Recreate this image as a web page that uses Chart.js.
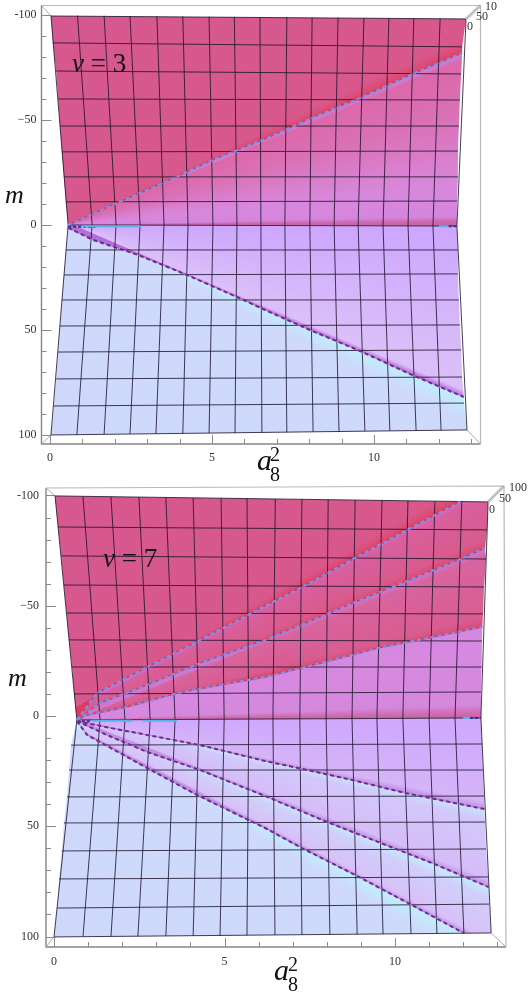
<!DOCTYPE html>
<html>
<head>
<meta charset="utf-8">
<script src="https://cdn.jsdelivr.net/npm/chart.js@4"></script>
<style>
  html, body { margin: 0; background: #fff; }
  #page { position: relative; width: 529px; height: 992px; overflow: hidden; font-family: "Liberation Serif", serif; color: #111; }
  canvas { position: absolute; left: 0; }
  .txt { position: absolute; line-height: 1; white-space: pre; }
  .small { font-size: 12px; color: #333; }
  .nu { font-size: 27px; }
  .big { font-size: 26px; font-style: italic; }
  .a8 { font-size: 30px; font-style: italic; }
  .idx { font-size: 20px; }
</style>
</head>
<body>
<div id="page">
  <canvas id="topChart" width="529" height="484" style="top:0"></canvas>
  <canvas id="bottomChart" width="529" height="508" style="top:484px"></canvas>

  <span class="txt nu" style="left:72px;top:50px"><i>ν</i> = 3</span>
  <span class="txt big" style="left:5px;top:182px">m</span>
  <span class="txt a8" style="left:257px;top:445px">a</span>
  <span class="txt idx" style="left:270px;top:444px">2</span>
  <span class="txt idx" style="left:270px;top:464px">8</span>
  <span class="txt small" style="left:485px;top:0px">10</span>
  <span class="txt small" style="left:476px;top:10px">50</span>
  <span class="txt small" style="left:467px;top:20px">0</span>

  <span class="txt nu" style="left:103px;top:545px"><i>ν</i> = 7</span>
  <span class="txt big" style="left:8px;top:665px">m</span>
  <span class="txt a8" style="left:274px;top:955px">a</span>
  <span class="txt idx" style="left:288px;top:954px">2</span>
  <span class="txt idx" style="left:288px;top:974px">8</span>
  <span class="txt small" style="left:509px;top:481px">100</span>
  <span class="txt small" style="left:499px;top:492px">50</span>
  <span class="txt small" style="left:489px;top:503px">0</span>
</div>
<script>
// axis ticks (same on both plots)
const aTicks = [0, 1, 2, 3, 4, 5, 6, 7, 8, 9, 10, 11, 12, 13];
const aLabels = ['0', '', '', '', '', '5', '', '', '', '', '10', '', '', ''];
const mTicks = [-100, -90, -80, -70, -60, -50, -40, -30, -20, -10, 0, 10, 20, 30, 40, 50, 60, 70, 80, 90, 100];
const mLabels = ['-100', '', '', '', '', '\u221250', '', '', '', '', '0', '', '', '', '', '50', '', '', '', '', '100'];

// nu = 3: mesh lines running top to bottom
const n3LineTopA = [0.03, 0.85, 1.67, 2.47, 3.30, 4.10, 4.91, 5.69, 6.48, 7.31, 8.09, 8.89, 9.69, 10.46, 11.23, 12.04, 12.84];
const n3LineTopM = [-99.8, -99.7, -99.6, -99.5, -99.4, -99.3, -99.2, -99.1, -99, -98.9, -98.8, -98.7, -98.6, -98.4, -98.3, -98.2, -98.1];
const n3LineMidA = [0.56, 1.30, 2.04, 2.78, 3.52, 4.26, 5.03, 5.77, 6.51, 7.25, 8.02, 8.77, 9.51, 10.28, 11.05, 11.82, 12.56];
const n3LineMidM = [0, 0, 0, 0, 0, 0, 0, 0.1, 0.1, 0.2, 0.2, 0.3, 0.3, 0.4, 0.4, 0.5, 0.5];
const n3LineBotA = [0.03, 0.83, 1.67, 2.47, 3.27, 4.10, 4.91, 5.71, 6.54, 7.31, 8.12, 8.92, 9.72, 10.49, 11.30, 12.07, 12.87];
const n3LineBotM = [100, 99.9, 99.7, 99.5, 99.4, 99.3, 99.1, 99, 98.8, 98.7, 98.5, 98.4, 98.2, 98.1, 97.9, 97.8, 97.6];
// nu = 3: mesh lines running left to right
const n3RowLeftA = [0.03, 0.09, 0.19, 0.25, 0.31, 0.37, 0.43, 0.49, 0.56, 0.49, 0.43, 0.37, 0.31, 0.25, 0.19, 0.12, 0.03];
const n3RowLeftM = [-99.5, -86.7, -73.3, -60, -47.1, -34.8, -22.9, -11, 0, 11.9, 23.8, 35.7, 48.1, 60.5, 73.3, 86.2, 100];
const n3RowRightA = [12.84, 12.72, 12.69, 12.65, 12.62, 12.59, 12.59, 12.56, 12.56, 12.59, 12.59, 12.62, 12.65, 12.69, 12.72, 12.78, 12.87];
const n3RowRightM = [-98.1, -84.8, -71.9, -59.5, -47.1, -35.2, -22.9, -11.4, 0.5, 11.9, 23.3, 35.7, 47.6, 59.5, 72.4, 84.8, 97.6];
// nu = 3: phase boundaries
const n3UpperA = [0.56, 2.07, 3.49, 5.03, 6.64, 8.09, 9.57, 11.11, 12.72];
const n3UpperM = [0, -10.5, -20, -31, -41, -51, -60.5, -71.4, -81.9];
const n3LowerA = [0.56, 1.33, 2.72, 4.23, 5.77, 6.64, 8.02, 9.57, 11.17, 12.77];
const n3LowerM = [1.4, 7.1, 14.3, 23.8, 34.3, 40.5, 50, 60, 71.4, 81.9];
const n3ZeroA = [0.56, 12.56];
const n3ZeroM = [0, 0.5];
const n3ScarA = [[1.0, 2.8], [12.0, 12.3]];
const n3ScarM = [[0.6, 0.6], [0.6, 0.6]];
const n3DarkScarA = [[0.56, 1.4], [12.3, 12.56]];
const n3DarkScarM = [[0.8, 0.8], [0.6, 0.6]];
const n3FrameA = [-0.262, 13.287, 13.287, -0.262];
const n3FrameM = [-104.5, -104.5, 104.29, 104.29];

// nu = 7: mesh lines running top to bottom
const n7LineTopA = [0.03, 0.85, 1.67, 2.49, 3.28, 4.08, 4.90, 5.66, 6.49, 7.27, 8.04, 8.83, 9.62, 10.38, 11.17, 11.96, 12.73];
const n7LineTopM = [-99.8, -99.6, -99.4, -99.3, -99.1, -98.9, -98.8, -98.6, -98.4, -98.3, -98.1, -97.9, -97.8, -97.6, -97.4, -97.3, -97.1];
const n7LineMidA = [0.67, 1.35, 2.08, 2.82, 3.55, 4.25, 4.99, 5.71, 6.42, 7.21, 7.98, 8.74, 9.47, 10.23, 11.0, 11.76, 12.52];
const n7LineMidM = [1.8, 1.7, 1.7, 1.6, 1.6, 1.5, 1.5, 1.4, 1.4, 1.3, 1.3, 1.2, 1.2, 1.1, 1.1, 1.0, 0.9];
const n7LineBotA = [0, 0.85, 1.67, 2.46, 3.28, 4.08, 4.87, 5.66, 6.48, 7.27, 8.09, 8.89, 9.65, 10.47, 11.23, 12.02, 12.82];
const n7LineBotM = [100.2, 100.1, 100, 99.9, 99.8, 99.7, 99.6, 99.5, 99.3, 99.2, 99.1, 99, 98.9, 98.8, 98.7, 98.5, 98.4];
// nu = 7: mesh lines running left to right
const n7RowLeftA = [0.03, 0.12, 0.21, 0.29, 0.37, 0.44, 0.53, 0.59, 0.67, 0.50, 0.44, 0.38, 0.29, 0.23, 0.15, 0.09, 0];
const n7RowLeftM = [-99.8, -85.7, -72.6, -59.4, -46.7, -34.5, -22.2, -10, 1.8, 13.2, 24.5, 36.7, 48.5, 61.2, 73.9, 87.1, 100.2];
const n7RowRightA = [12.73, 12.70, 12.67, 12.61, 12.58, 12.55, 12.54, 12.52, 12.52, 12.55, 12.58, 12.61, 12.64, 12.67, 12.73, 12.76, 12.82];
const n7RowRightM = [-97.1, -84.4, -71.2, -58.5, -46.3, -34, -22.2, -10.9, 0.9, 12.7, 24.5, 36.3, 48.1, 60.3, 73, 85.3, 98.4];
// nu = 7: phase boundaries
const n7Upper1A = [0.67, 1.26, 2.73, 4.28, 6.19, 7.21, 8.77, 10.35, 11.91];
const n7Upper1M = [1.8, -10.4, -22.2, -34.5, -49.9, -58, -71.2, -84.4, -97.2];
const n7Upper2A = [0.67, 1.35, 2.73, 4.28, 6.19, 7.45, 8.83, 10.29, 11.85, 12.64];
const n7Upper2M = [1.8, -5.9, -14.1, -24, -34.5, -42.6, -51.7, -60.8, -70.7, -76.2];
const n7Upper3A = [0.67, 0.97, 2.14, 3.61, 4.87, 6.19, 7.95, 9.50, 10.97, 12.56];
const n7Upper3M = [1.8, -0.5, -4.1, -10.4, -14.1, -17.7, -24.5, -30.8, -35.4, -40.4];
const n7ZeroA = [0.67, 12.52];
const n7ZeroM = [1.8, 0.9];
const n7Lower1A = [0.67, 1.64, 2.73, 4.28, 6.19, 7.16, 8.74, 10.29, 12.62];
const n7Lower1M = [2.3, 5.4, 8.6, 13.2, 20.4, 23.6, 29, 34.9, 42.2];
const n7Lower2A = [0.67, 1.55, 2.73, 4.28, 6.19, 8.01, 9.50, 11.09, 12.75];
const n7Lower2M = [2.3, 8.6, 16.3, 24.5, 36.3, 48.1, 57.1, 66.7, 77.6];
const n7Lower3A = [0.67, 0.97, 2.73, 4.19, 6.19, 7.27, 8.83, 10.38, 12.02];
const n7Lower3M = [2.3, 8.6, 23.6, 35.8, 50.8, 59.9, 72.1, 84.8, 98.5];
const n7ScarA = [[1.1, 2.3], [2.6, 3.6], [12.0, 12.2]];
const n7ScarM = [[2.2, 2.2], [2.2, 2.2], [0.9, 0.9]];
const n7DarkScarA = [[0.67, 1.1], [12.2, 12.52]];
const n7DarkScarM = [[2.4, 2.4], [0.9, 0.9]];
const n7FrameA = [-0.235, 13.196, 13.255, -0.235];
const n7FrameM = [-103.4, -104.3, 104.76, 104.76];

// colours along each wedge, [position from upper to lower edge, colour]
const n3WedgeStops = [
  [[0, '#d6588f'], [0.975, '#d8588c'], [0.993, '#dd4a72'], [1, '#e03a5c']],
  [[0, '#c884dc'], [0.04, '#dc68aa'], [0.3, '#da70b4'], [0.75, '#d888dc'], [0.94, '#d585dc'], [0.97, '#cc6ab0'], [1, '#c8609f']],
  [[0, '#cda6ff'], [0.5, '#d4b4fb'], [0.965, '#dbc0f8'], [0.985, '#c890e8'], [1, '#b070d8']],
  [[0, '#bdf0fb'], [0.01, '#c4e8fb'], [0.04, '#ced9fb'], [1, '#cfd8fb']]
];
const n7WedgeStops = [
  [[0, '#d6588f'], [0.975, '#d8588c'], [0.993, '#dd4a72'], [1, '#e03a5c']],
  [[0, '#cf70c8'], [0.08, '#d8609f'], [0.85, '#d95a8c'], [1, '#dd4a70']],
  [[0, '#cf78d0'], [0.1, '#d8659f'], [0.88, '#d85c90'], [1, '#dc4a72']],
  [[0, '#d488e0'], [0.2, '#d888e0'], [0.85, '#d488dc'], [0.93, '#d070b8'], [1, '#c8609f']],
  [[0, '#cfa8ff'], [0.5, '#d2aefb'], [0.92, '#d6b4f8'], [1, '#c090e4']],
  [[0, '#c8e4fa'], [0.15, '#d2c8fb'], [0.9, '#d6bcf8'], [1, '#c090e4']],
  [[0, '#c4ecfb'], [0.2, '#d0d0fb'], [0.9, '#d8c0f8'], [1, '#c090e4']],
  [[0, '#bdf0fb'], [0.01, '#c4e8fb'], [0.04, '#ced9fb'], [1, '#cfd8fb']]
];

function toPoints(xs, ys) {
  return xs.map((x, i) => ({ x: x, y: ys[i] }));
}

// tick marks point into the box here, chart.js only draws them outwards
const innerTicks = {
  id: 'innerTicks',
  afterDraw(chart) {
    const { ctx, chartArea, scales } = chart;
    ctx.save();
    ctx.strokeStyle = '#8a8a8a';
    ctx.lineWidth = 1;
    aTicks.forEach((v, i) => {
      const px = Math.round(scales.x.getPixelForValue(v)) + 0.5;
      ctx.beginPath();
      ctx.moveTo(px, chartArea.bottom);
      ctx.lineTo(px, chartArea.bottom - (aLabels[i] ? 9 : 5));
      ctx.stroke();
    });
    mTicks.forEach((v, i) => {
      const py = Math.round(scales.y.getPixelForValue(v)) + 0.5;
      ctx.beginPath();
      ctx.moveTo(chartArea.left, py);
      ctx.lineTo(chartArea.left + (mLabels[i] ? 10 : 5), py);
      ctx.stroke();
    });
    ctx.restore();
  }
};

function drawPanel(id, p) {
  const rowLeft = toPoints(p.rowLeftA, p.rowLeftM);
  const rowRight = toPoints(p.rowRightA, p.rowRightM);
  const apex = rowLeft[8];

  // the chains fan out of the apex, top edge first and bottom edge last
  const chains = [];
  chains.push(rowLeft.slice(0, 9).reverse().concat([rowRight[0]]));
  p.boundaries.forEach(b => chains.push(toPoints(b[0], b[1])));
  chains.push(rowLeft.slice(8).concat([rowRight[16]]));
  const last = chains.length - 2;

  const px = (chart, pt) => ({ x: chart.scales.x.getPixelForValue(pt.x), y: chart.scales.y.getPixelForValue(pt.y) });

  // straight line through the outer half of a chain, in pixels
  function fitLine(chart, chain) {
    const q = px(chart, chain[Math.floor((chain.length - 1) / 2)]);
    const r = px(chart, chain[chain.length - 1]);
    return { x: r.x, y: r.y, slope: (r.y - q.y) / (r.x - q.x) };
  }

  // the shading of a wedge follows the two lines it lies between, so turn around where they meet
  function wedgeCentre(chart, i) {
    const ax = px(chart, apex).x;
    if (i === 0) {
      const l = fitLine(chart, chains[1]);
      return { x: ax, y: l.y + l.slope * (ax - l.x) };
    }
    if (i === last) {
      const l = fitLine(chart, chains[last]);
      return { x: ax, y: l.y + l.slope * (ax - l.x) };
    }
    const a = fitLine(chart, chains[i]), b = fitLine(chart, chains[i + 1]);
    const x = (b.y - a.y + a.slope * a.x - b.slope * b.x) / (a.slope - b.slope);
    return { x: x, y: a.y + a.slope * (x - a.x) };
  }

  const datasets = [];

  // wedges
  for (let i = 0; i <= last; i++) {
    const a = chains[i], b = chains[i + 1];
    const lo = a[a.length - 1].y, hi = b[b.length - 1].y;
    const between = rowRight.filter(pt => pt.y > lo && pt.y < hi);
    const shape = a.concat(between, b.slice().reverse());
    const stops = p.wedgeStops[i];
    datasets.push({
      data: shape,
      showLine: true,
      fill: 'shape',
      borderWidth: 0,
      pointRadius: 0,
      order: 6,
      backgroundColor(c) {
        const chart = c.chart;
        if (!chart.chartArea) return stops[0][1];
        const centre = wedgeCentre(chart, i);
        const from = px(chart, i === 0 ? rowLeft[0] : a[a.length - 1]);
        const to = px(chart, i === last ? rowLeft[16] : b[b.length - 1]);
        const t0 = Math.atan2(from.y - centre.y, from.x - centre.x);
        const t1 = Math.atan2(to.y - centre.y, to.x - centre.x);
        const g = chart.ctx.createConicGradient(-Math.PI, centre.x, centre.y);
        stops.forEach(s => g.addColorStop((t0 + s[0] * (t1 - t0) + Math.PI) / (2 * Math.PI), s[1]));
        return g;
      }
    });
  }

  // mesh
  const meshColor = 'rgba(28, 20, 44, 0.82)';
  p.lineTopA.forEach((v, i) => {
    datasets.push({
      data: [{ x: v, y: p.lineTopM[i] }, { x: p.lineMidA[i], y: p.lineMidM[i] }, { x: p.lineBotA[i], y: p.lineBotM[i] }],
      showLine: true, borderColor: meshColor, borderWidth: 1, pointRadius: 0, order: 4
    });
  });
  rowLeft.forEach((pt, i) => {
    datasets.push({
      data: [pt, rowRight[i]],
      showLine: true, borderColor: meshColor, borderWidth: 1, pointRadius: 0, order: 4
    });
  });

  // phase boundaries, a solid line with a jagged looking dashed one on it
  p.boundaries.forEach(b => {
    const pts = toPoints(b[0], b[1]);
    const end = pts[pts.length - 1].y;
    if (Math.abs(end) < 5) return;
    const upper = end < 0;
    datasets.push({
      data: pts, showLine: true, pointRadius: 0, order: 3,
      borderColor: upper ? '#dc3a62' : '#c070d8', borderWidth: upper ? 1.5 : 1
    });
    datasets.push({
      data: pts, showLine: true, pointRadius: 0, order: 2,
      borderColor: upper ? '#7096f0' : '#6e2a8c', borderWidth: 2, borderDash: [4, 3]
    });
  });

  // streaks along m = 0
  p.scarA.forEach((v, i) => {
    datasets.push({
      data: toPoints(v, p.scarM[i]), showLine: true, pointRadius: 0, order: 2,
      borderColor: '#55b4e8', borderWidth: 2
    });
  });
  p.darkScarA.forEach((v, i) => {
    datasets.push({
      data: toPoints(v, p.darkScarM[i]), showLine: true, pointRadius: 0, order: 2,
      borderColor: '#3f2c94', borderWidth: 2, borderDash: [3, 2]
    });
  });

  // box around the plot and the corner struts
  const f = toPoints(p.frameA, p.frameM);
  const struts = [[f[0], rowLeft[0]], [f[1], rowRight[0]], [f[2], rowRight[16]], [f[3], rowLeft[16]]];
  struts.forEach(s => {
    datasets.push({ data: s, showLine: true, pointRadius: 0, order: 1, clip: false, borderColor: '#a8a8a8', borderWidth: 1 });
  });
  // the corner with the third axis is a thin grey sliver
  datasets.push({ data: struts[1], showLine: true, pointRadius: 0, order: 2, clip: false, borderColor: '#d4d4d4', borderWidth: 3.5 });
  datasets.push({ data: [f[0], f[1], f[2]], showLine: true, pointRadius: 0, order: 1, clip: false, borderColor: '#b8b8b8', borderWidth: 1.2 });
  datasets.push({ data: [f[0], f[3], f[2]], showLine: true, pointRadius: 0, order: 1, clip: false, borderColor: '#858585', borderWidth: 1.4 });

  new Chart(document.getElementById(id), {
    type: 'scatter',
    data: { datasets: datasets },
    plugins: [innerTicks],
    options: {
      responsive: false,
      animation: false,
      layout: { padding: { top: p.padTop, right: p.padRight, left: 0, bottom: 0 } },
      plugins: { legend: { display: false }, tooltip: { enabled: false } },
      elements: { line: { tension: 0 } },
      scales: {
        x: {
          type: 'linear',
          min: p.xMin,
          max: p.xMax,
          grid: { display: false, drawTicks: false, tickLength: 0 },
          border: { display: false },
          afterBuildTicks(scale) { scale.ticks = aTicks.map(v => ({ value: v })); },
          afterFit(scale) {
            scale.height = p.axisH;
            scale.paddingLeft = 0;
            scale.paddingRight = 0;
          },
          ticks: {
            autoSkip: false, maxRotation: 0, padding: p.xPad, color: '#333',
            font: { family: 'Liberation Serif', size: 12 },
            callback: (v, i) => aLabels[i]
          }
        },
        y: {
          type: 'linear',
          reverse: true,
          min: p.yMin,
          max: p.yMax,
          grid: { display: false, drawTicks: false, tickLength: 0 },
          border: { display: false },
          afterBuildTicks(scale) { scale.ticks = mTicks.map(v => ({ value: v })); },
          afterFit(scale) {
            scale.width = p.axisW;
            scale.paddingTop = 0;
            scale.paddingBottom = 0;
          },
          ticks: {
            autoSkip: false, padding: p.yPad, color: '#333',
            font: { family: 'Liberation Serif', size: 12 },
            callback: (v, i) => mLabels[i]
          }
        }
      }
    }
  });
}

drawPanel('topChart', {
  lineTopA: n3LineTopA, lineTopM: n3LineTopM, lineMidA: n3LineMidA, lineMidM: n3LineMidM,
  lineBotA: n3LineBotA, lineBotM: n3LineBotM,
  rowLeftA: n3RowLeftA, rowLeftM: n3RowLeftM, rowRightA: n3RowRightA, rowRightM: n3RowRightM,
  boundaries: [[n3UpperA, n3UpperM], [n3ZeroA, n3ZeroM], [n3LowerA, n3LowerM]],
  scarA: n3ScarA, scarM: n3ScarM, darkScarA: n3DarkScarA, darkScarM: n3DarkScarM,
  frameA: n3FrameA, frameM: n3FrameM,
  wedgeStops: n3WedgeStops,
  xMin: -0.262, xMax: 13.287, yMin: -104.5, yMax: 104.29,
  padTop: 5.5, padRight: 48.5, axisH: 40, axisW: 41.5, xPad: 7, yPad: 5
});

drawPanel('bottomChart', {
  lineTopA: n7LineTopA, lineTopM: n7LineTopM, lineMidA: n7LineMidA, lineMidM: n7LineMidM,
  lineBotA: n7LineBotA, lineBotM: n7LineBotM,
  rowLeftA: n7RowLeftA, rowLeftM: n7RowLeftM, rowRightA: n7RowRightA, rowRightM: n7RowRightM,
  boundaries: [[n7Upper1A, n7Upper1M], [n7Upper2A, n7Upper2M], [n7Upper3A, n7Upper3M], [n7ZeroA, n7ZeroM],
    [n7Lower1A, n7Lower1M], [n7Lower2A, n7Lower2M], [n7Lower3A, n7Lower3M]],
  scarA: n7ScarA, scarM: n7ScarM, darkScarA: n7DarkScarA, darkScarM: n7DarkScarM,
  frameA: n7FrameA, frameM: n7FrameM,
  wedgeStops: n7WedgeStops,
  xMin: -0.235, xMax: 13.255, yMin: -104.3, yMax: 104.76,
  padTop: 2, padRight: 23, axisH: 45, axisW: 46, xPad: 8, yPad: 7
});
</script>
</body>
</html>
